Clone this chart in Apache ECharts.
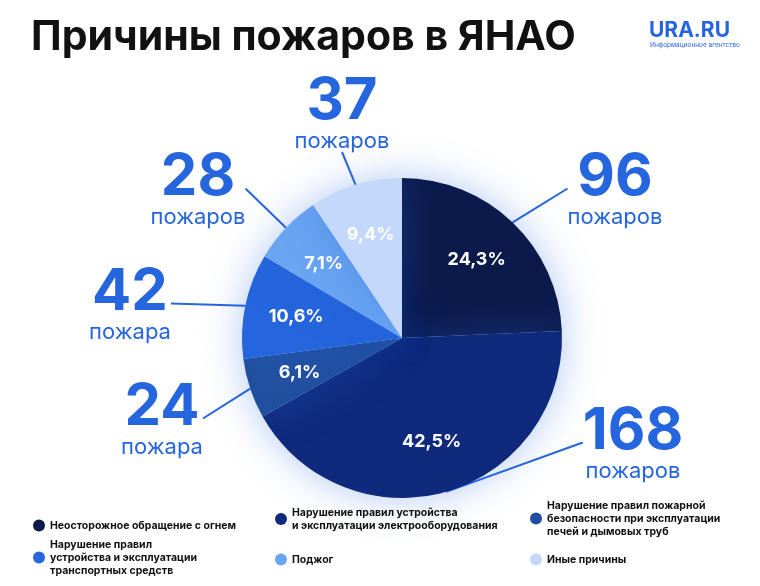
<!DOCTYPE html>
<html><head><meta charset="utf-8">
<script src="https://cdn.jsdelivr.net/npm/echarts@6/dist/echarts.min.js"></script>
<style>html,body{margin:0;background:#fff}#c{width:760px;height:586px}</style>
</head><body><div id="c"></div>
<script>
const categories = ['Неосторожное обращение с огнем','Нарушение правил устройства и эксплуатации электрооборудования','Нарушение правил пожарной безопасности при эксплуатации печей и дымовых труб','Нарушение правил устройства и эксплуатации транспортных средств','Поджог','Иные причины'];
const legendText = ['Неосторожное обращение с огнем','Нарушение правил устройства\nи эксплуатации электрооборудования','Нарушение правил пожарной\nбезопасности при эксплуатации\nпечей и дымовых труб','Нарушение правил\nустройства и эксплуатации\nтранспортных средств','Поджог','Иные причины'];
const values = [96,168,24,42,28,37];
const percents = ['24,3%','42,5%','6,1%','10,6%','7,1%','9,4%'];
const units = ['пожаров','пожаров','пожара','пожара','пожаров','пожаров'];
const colors = ['#0c1a4b','#0f2a7c','#22509f','#2565dd','#6aa5f2','#c3d8fa'];
const labelPos = [[615,190],[633,444],[162,420],[130,305],[198,190],[342,114]];
const legendPos = [[28,514],[270,501],[525,494],[28,533],[270,548],[525,548]];

const data = categories.map((n,i)=>({name:n,value:values[i],itemStyle:{color:colors[i]}}));
const chart = echarts.init(document.getElementById('c'));
const legends = categories.map((n,i)=>({
  data:[{name:n,icon:'circle'}], left:legendPos[i][0], top:legendPos[i][1],
  itemWidth:12,itemHeight:12,selectedMode:false,
  formatter: ()=>legendText[i],
  textStyle:{fontSize:10.5,fontWeight:'bold',color:'#111',lineHeight:13,fontFamily:'Inter'}
}));
const pieBase = {type:'pie',center:[402,338],startAngle:90,clockwise:true};
chart.setOption({
  animation:false,
  title:{text:'Причины пожаров в ЯНАО',left:26,top:12,textStyle:{fontSize:41,fontWeight:'bold',color:'#111',fontFamily:'Inter'}},
  graphic:[
    {type:'text',left:649,top:20,style:{text:'URA.RU',fontSize:21,fontWeight:'bold',fill:'#2565dd',fontFamily:'Inter'}},
    {type:'text',left:650,top:42,style:{text:'Информационное агентство',fontSize:6.5,fill:'#2565dd',fontFamily:'Inter'}}
  ],
  legend:legends,
  series:[
    Object.assign({},pieBase,{radius:[0,160],data,
     itemStyle:{shadowBlur:40,shadowColor:'rgba(37,101,221,0.35)'},
     label:{show:false},labelLine:{show:false}}),
    Object.assign({},pieBase,{radius:[50,160],silent:true,
     data:data.map(d=>({name:d.name,value:d.value,itemStyle:{color:'transparent'}})),
     label:{show:true,position:'inside',formatter:p=>percents[p.dataIndex],color:'#fff',fontSize:18,fontWeight:'bold',fontFamily:'Inter'},
     labelLine:{show:false}}),
    Object.assign({},pieBase,{radius:[0,160],silent:true,
     data:data.map(d=>({name:d.name,value:d.value,itemStyle:{color:'transparent'}})),
     label:{show:true,position:'outside',formatter:p=>'{n|'+p.value+'}\n{u|'+units[p.dataIndex]+'}',
       rich:{n:{fontSize:58,fontWeight:'bold',color:'#2565dd',lineHeight:54,align:'center',fontFamily:'Inter'},
             u:{fontSize:22,color:'#2565dd',lineHeight:24,align:'center',fontFamily:'Inter'}}},
     labelLine:{show:true,length:15,length2:0,lineStyle:{color:'#2565dd',width:2}},
     labelLayout:p=>{const q=labelPos[p.dataIndex];return {x:q[0],y:q[1],align:'center',verticalAlign:'middle'};}})
  ]
});
</script></body></html>
